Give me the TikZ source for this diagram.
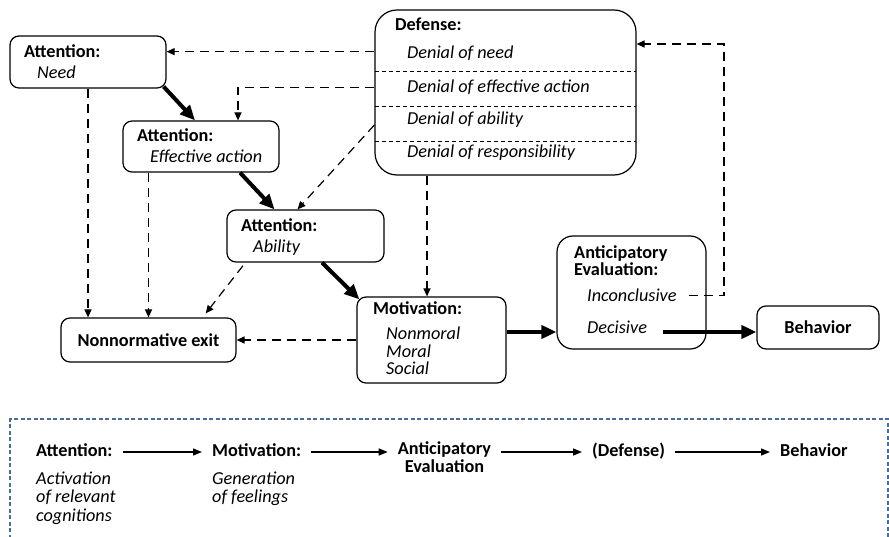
\documentclass[tikz,border=0pt]{standalone}
\usepackage{fontspec}
\setmainfont{Carlito}
\usetikzlibrary{arrows.meta}
\definecolor{frameblue}{HTML}{4A6C9B}
\newcommand\diagfs{\fontsize{18.3}{18.3}\selectfont}
\begin{document}
\begin{tikzpicture}[x=1bp,y=-1bp,
  font=\diagfs,
  box/.style={draw, line width=1.2bp, rounded corners=9bp, inner sep=0pt},
  lbl/.style={anchor=base west, inner sep=0pt},
  hd/.style={lbl, font=\diagfs\bfseries},
  itx/.style={lbl, font=\diagfs\itshape},
  legend/.style={hd, text height=12bp, text depth=4bp},
  mainflow/.style={line width=4bp, -{Triangle[length=15bp,width=13bp]}},
  altflow/.style={line width=1.2bp, dash pattern=on 9bp off 6bp,
                  -{Triangle[length=8bp,width=7bp]}},
  stepflow/.style={line width=1.4bp, -{Triangle[length=9bp,width=7bp]},
                   shorten <=10bp, shorten >=10bp},
  sep/.style={line width=0.8bp, dash pattern=on 4bp off 3bp}
]
\useasboundingbox (0,0) rectangle (889,537);

% ---- boxes ----
\node[box, minimum width=156bp, minimum height=52bp] (need)  at (88,62)     {};
\node[box, minimum width=156bp, minimum height=51bp] (eff)   at (201,146.5) {};
\node[box, minimum width=157bp, minimum height=52bp] (abil)  at (305.5,236) {};
\node[box, minimum width=175bp, minimum height=44bp, font=\diagfs\bfseries]
     (exit) at (148.5,340) {Nonnormative exit};
\node[box, minimum width=149bp, minimum height=86bp] (motiv) at (431.5,340) {};
\node[box, rounded corners=16bp, minimum width=149bp, minimum height=113bp] (antic) at (631.5,292.5) {};
\node[box, minimum width=122bp, minimum height=43bp, font=\diagfs\bfseries]
     (behav) at (818,327.5) {Behavior};
\node[box, rounded corners=22bp, minimum width=261bp, minimum height=165bp] (def) at (505.5,92.5) {};

% ---- box texts ----
\node[hd]  (needH) at (24,58)  {Attention:};
\node[itx] (needT) at (37,79)  {Need};
\node[hd]  (effH)  at (137,142) {Attention:};
\node[itx] (effT)  at (150,163) {Effective action};
\node[hd]  (abilH) at (241,232) {Attention:};
\node[itx] (abilT) at (253,253) {Ability};
\node[hd]  (motH)  at (373,315) {Motivation:};
\node[itx] (motA)  at (386,340) {Nonmoral};
\node[itx] (motB)  at (386,357) {Moral};
\node[itx] (motC)  at (386,374) {Social};
\node[hd]  (antA)  at (574,259) {Anticipatory};
\node[hd]  (antB)  at (574,276) {Evaluation:};
\node[itx] (inc)   at (587,302) {Inconclusive};
\node[itx] (dec)   at (587,334) {Decisive};
\node[hd]  (defH)  at (395,31)  {Defense:};
\node[itx] (dNeed) at (407,59)  {Denial of need};
\node[itx] (dEff)  at (407,93)  {Denial of effective action};
\node[itx] (dAbil) at (407,125) {Denial of ability};
\node[itx] (dResp) at (407,158) {Denial of responsibility};

% separators inside the defense box
\draw[sep] (375,71)  -- (636,71);
\draw[sep] (375,106) -- (636,106);
\draw[sep] (375,141) -- (636,141);

% ---- main sequence ----
\draw[mainflow] ([shift={(-3,-2)}]need.south east) -- ([xshift=-6bp]eff.north);
\draw[mainflow] ([xshift=39bp]eff.south) -- ([xshift=-31bp]abil.north);
\draw[mainflow] ([xshift=16.5bp]abil.south) -- ([shift={(3,3)}]motiv.north west);
\coordinate (decrow) at ([yshift=2bp]dec.base);
\draw[mainflow] (motiv.east |- decrow) -- (antic.west |- decrow);
\draw[mainflow, shorten <=16bp] (dec.east |- decrow) -- (behav.west |- decrow);

% ---- defense feedback ----
\draw[altflow] (def.west |- needH) -- (need.east |- needH);
\draw[altflow] (def.west |- dEff) -| ([xshift=37bp]eff.north);
\draw[altflow] (def.west |- dAbil.base) -- ([xshift=-8bp]abil.north);
\coordinate (mtop) at ([xshift=-4.5bp]motiv.north);
\draw[altflow] (mtop |- def.south) -- (mtop);
\coordinate (fbk) at (724,44);
\draw[altflow, shorten <=12bp] (inc.east) -- (inc.east -| fbk) -- (fbk) -- (def.east |- fbk);

% ---- exits ----
\draw[altflow] (need.south) -- (need.south |- exit.north);
\draw[altflow] (exit.north |- eff.south) -- (exit.north);
\draw[altflow, shorten <=4bp, shorten >=5bp] ([xshift=19bp]abil.south west) -- ([xshift=-34bp]exit.north east);
\draw[altflow] (motiv.west) -- (exit.east);

% ---- legend ----
\draw[frameblue, line width=1.3bp, dash pattern=on 4bp off 2.5bp]
  (10,545) -- (10,419) -- (888,419) -- (888,545);
\node[legend] (attL) at (36,456)  {Attention:};
\node[itx] at (36,484) {Activation};
\node[itx] at (36,502) {of relevant};
\node[itx] at (36,521) {cognitions};
\node[legend] (motL) at (212,456) {Motivation:};
\node[itx] at (212,484) {Generation};
\node[itx] at (212,502) {of feelings};
\node[anchor=north, inner sep=0pt, align=center,
      font=\fontsize{18.3}{19}\selectfont\bfseries] (antL) at (444.5,441) {Anticipatory\\Evaluation};
\node[legend] (defL) at (592,456) {(Defense)};
\node[legend] (behL) at (780,456) {Behavior};
\draw[stepflow] (attL.east) -- (motL.west);
\draw[stepflow] (motL.east) -- (motL.east -| antL.west);
\draw[stepflow] (antL.east |- defL.west) -- (defL.west);
\draw[stepflow] (defL.east) -- (behL.west);
\end{tikzpicture}
\end{document}
